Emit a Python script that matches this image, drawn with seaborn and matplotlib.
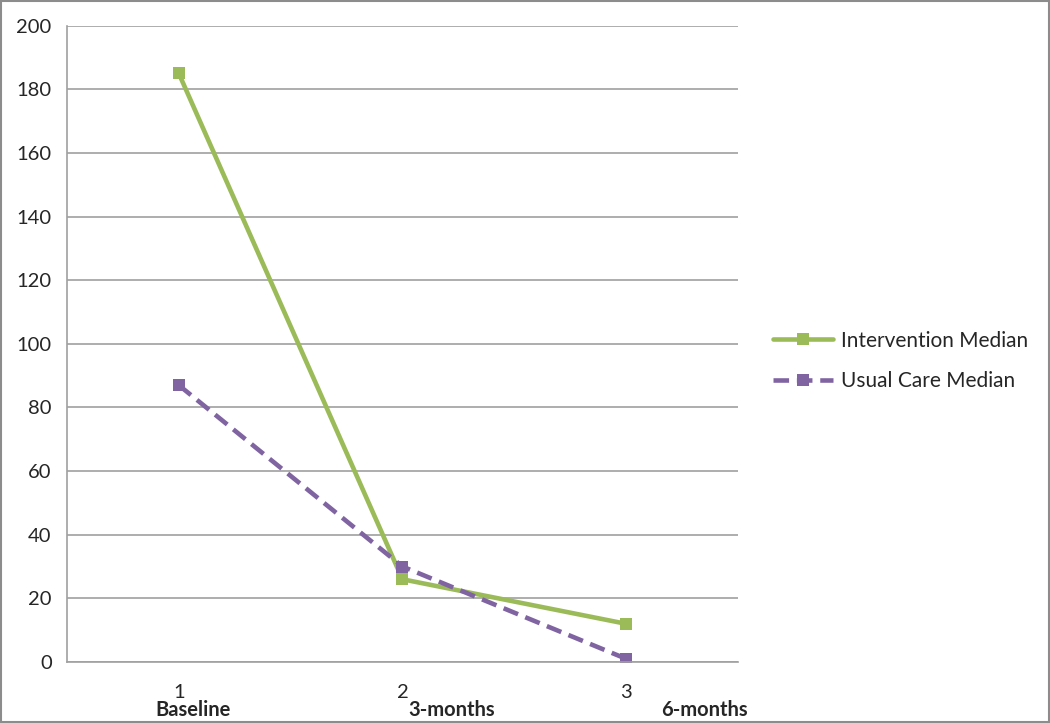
import pandas as pd
import numpy as np
import matplotlib.pyplot as plt
import seaborn as sns

sns.set_style('white')
plt.rcParams['font.family'] = ['Lato', 'DejaVu Sans']

visits = [1, 2, 3]
visit_names = ['Baseline', '3-months', '6-months']
intervention = [185, 26, 12]
usual_care = [87, 30, 1]
series = ['Intervention Median', 'Usual Care Median']

df = pd.DataFrame({
    'visit': visits * 2,
    'value': intervention + usual_care,
    'group': [series[0]] * 3 + [series[1]] * 3,
})

fig = plt.figure(figsize=(10.5, 7.23), dpi=100)
ax = fig.add_axes([0.0638, 0.0844, 0.639, 0.880])

sns.lineplot(data=df, x='visit', y='value', hue='group', style='group',
             palette={series[0]: '#9BBB59', series[1]: '#8064A2'},
             dashes={series[0]: '', series[1]: (3.4, 1.7)},
             markers={series[0]: 's', series[1]: 's'},
             markersize=9, linewidth=3.3, markeredgewidth=0, ax=ax)

ax.set_xlim(0.5, 3.5)
ax.set_ylim(0, 200)
ax.set_yticks(np.arange(0, 201, 20))
ax.yaxis.grid(True, color='#A0A0A0', lw=1.2)
ax.set_axisbelow(True)
for s in ['top', 'right']:
    ax.spines[s].set_visible(False)
ax.spines['left'].set_color('#A0A0A0')
ax.spines['bottom'].set_color('#A0A0A0')
ax.spines['left'].set_linewidth(1.2)
ax.spines['bottom'].set_linewidth(1.2)

# category boundaries get the tick marks, the numbers sit at the centres
ax.set_xticks([0.5, 1.5, 2.5, 3.5])
ax.set_xticklabels([])
ax.set_xticks(visits, minor=True)
ax.set_xticklabels([str(v) for v in visits], minor=True, fontsize=14.5)
ax.tick_params(axis='x', which='major', length=7, color='#A0A0A0', width=1.2, direction='out')
ax.tick_params(axis='x', which='minor', length=0, pad=16)
ax.tick_params(axis='y', length=7, color='#A0A0A0', width=1.2, direction='out', labelsize=14.5, pad=4)
ax.set_xlabel('')
ax.set_ylabel('')

offsets = [0.062, 0.027, 0.155]
aligns = ['center', 'left', 'left']
for v, name, off, ha in zip(visits, visit_names, offsets, aligns):
    ax.text(v + off, -0.075, name, transform=ax.get_xaxis_transform(),
            ha=ha, va='center', fontsize=14.5, fontweight='bold')

leg = ax.legend(loc='center left', bbox_to_anchor=(1.052, 0.473), frameon=False,
                fontsize=15, handlelength=2.9, handletextpad=0.35, labelspacing=1.0,
                borderpad=0, borderaxespad=0)

fig.patches.append(plt.Rectangle((0.001, 0.001), 0.998, 0.998, transform=fig.transFigure,
                                 fill=False, edgecolor='#8C8C8C', lw=1.5))

fig.savefig('out.png', dpi=100)
